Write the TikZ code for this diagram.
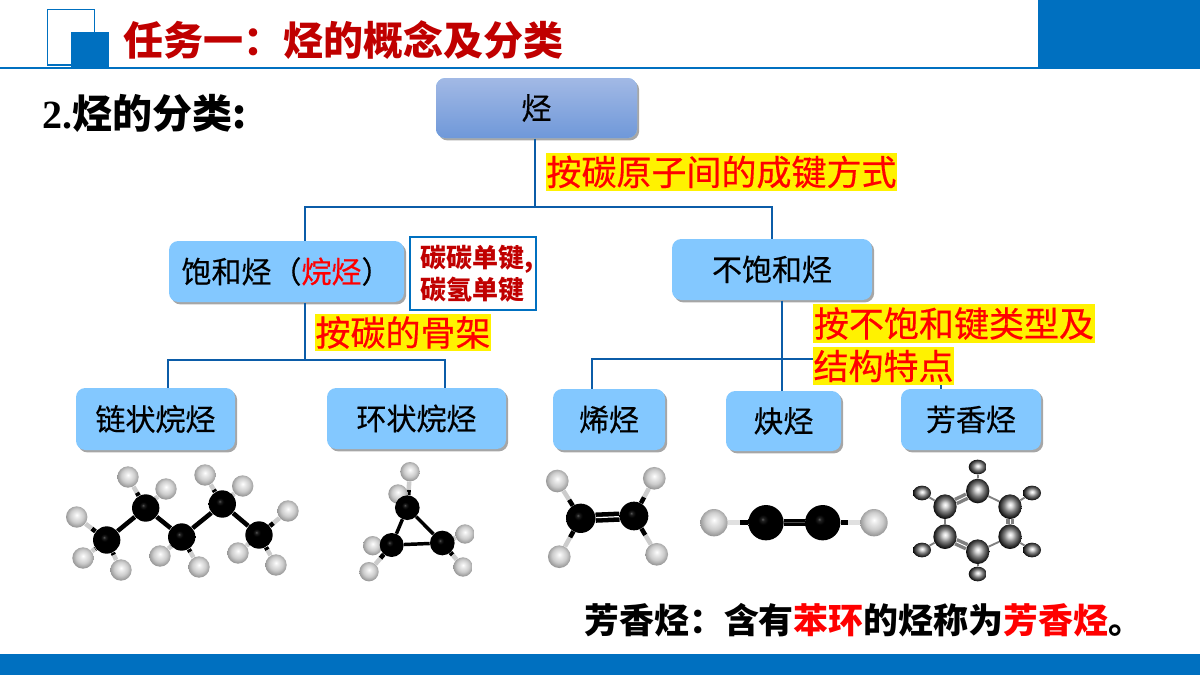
\documentclass[tikz,border=0pt]{standalone}
\usepackage{fontspec}
\setmainfont{Noto Sans CJK SC}
\newfontfamily\bodyfont{Noto Sans CJK SC}[FakeBold=0.4]
\newfontfamily\latinbold{Liberation Serif}
\usetikzlibrary{calc,shadows,backgrounds,shapes.geometric}

\definecolor{barblue}{HTML}{0070C0}
\definecolor{linkblue}{HTML}{0B5CA8}
\definecolor{boxblue}{HTML}{83C8FF}
\definecolor{titlered}{HTML}{C00000}
\definecolor{rootA}{HTML}{A2B9E5}
\definecolor{rootB}{HTML}{6F98D9}

\pgfdeclareradialshading{carbonball}{\pgfpoint{-5bp}{5bp}}{rgb(0bp)=(.36,.36,.36);rgb(2.5bp)=(.12,.12,.12);rgb(7bp)=(0,0,0);rgb(50bp)=(0,0,0)}
\pgfdeclareradialshading{hydroball}{\pgfpoint{0bp}{5bp}}{rgb(0bp)=(1,1,1);rgb(5bp)=(.93,.93,.93);rgb(16bp)=(.8,.8,.8);rgb(28bp)=(.55,.55,.55);rgb(50bp)=(.4,.4,.4)}
\pgfdeclareradialshading{ringball}{\pgfpoint{0bp}{4bp}}{rgb(0bp)=(1,1,1);rgb(5bp)=(.86,.86,.86);rgb(13bp)=(.5,.5,.5);rgb(20bp)=(.24,.24,.24);rgb(27bp)=(0,0,0);rgb(50bp)=(0,0,0)}

\tikzset{
  every picture/.style={line width=0.75pt},
  slidebar/.style={fill=barblue,draw=none},
  link/.style={draw=linkblue,line width=1.5pt},
  classbox/.style={rounded corners=7pt,fill=boxblue,inner sep=0pt,font=\bodyfont\fontsize{22.5}{27}\selectfont,
    drop shadow={shadow xshift=1.6pt,shadow yshift=-1.8pt,fill=black,opacity=.35}},
  rootbox/.style={classbox,top color=rootA,bottom color=rootB},
  keylabel/.style={fill=yellow,text=red,inner sep=0pt,font=\bodyfont\fontsize{26.25}{30}\selectfont},
  catom/.style={circle,inner sep=0pt,shading=carbonball,minimum size=20.5pt},
  hatom/.style={circle,inner sep=0pt,shading=hydroball,minimum size=16pt},
  ringC/.style={ellipse,inner sep=0pt,shading=ringball,minimum width=17.5pt,minimum height=18.5pt},
  ringH/.style={ellipse,inner sep=0pt,shading=ringball,minimum width=13.5pt,minimum height=11pt},
  ccbond/.style={draw=black,line width=3.4pt},
  blackhalf/.style={draw=black,line width=3.4pt},
  whitehalf/.style={draw=black!20,line width=3.4pt},
  ringbond/.style={draw=black!50,line width=1.4pt},
  ringdouble/.style={draw=black!50,line width=2.6pt,double=white,double distance=.7pt},
}

\newcommand{\chbond}[2]{%
  \draw[blackhalf] (#1) -- ($(#1)!.5!(#2)$);
  \draw[whitehalf] ($(#1)!.5!(#2)$) -- (#2);}

\begin{document}
\begin{tikzpicture}[x=0.75pt,y=0.75pt,yscale=-1,xscale=1]
\useasboundingbox (0,0) rectangle (1200,675);

%Header and footer
\draw[draw=barblue,line width=1.5pt] (0,67.5) -- (1200,67.5);
\fill[slidebar] (1038,0) rectangle (1200,67);
\fill[slidebar] (0,654) rectangle (1200,675);
\draw[draw=barblue,line width=.8pt,fill=white] (47.5,9.5) rectangle (94.5,65);
\fill[slidebar] (70.5,32) rectangle (109,67);

%Titles
\node[text=titlered,font=\fontsize{30}{36}\selectfont\bfseries,anchor=west,inner sep=0pt] (title) at (123,40) {任务一：烃的概念及分类};
\node[font=\fontsize{30}{36}\selectfont\bfseries,anchor=west,inner sep=0pt] (subtitle) at (42,113) {{\latinbold 2.}烃的分类:};

%Boxes
\node[rootbox,minimum width=150.75pt,minimum height=45pt] (root) at (536.5,108) {烃};
\node[classbox,minimum width=176.25pt,minimum height=45.75pt] (sat) at (286.5,271.5) {饱和烃（\textcolor{red}{烷烃}）};
\node[classbox,minimum width=150pt,minimum height=45.75pt] (unsat) at (772,269.5) {不饱和烃};
\node[classbox,minimum width=119.25pt,minimum height=46.5pt] (chain) at (155.5,419) {链状烷烃};
\node[classbox,minimum width=134.25pt,minimum height=45.75pt] (cyclo) at (416.5,418.5) {环状烷烃};
\node[classbox,minimum width=84pt,minimum height=45.75pt] (ene) at (609,419.5) {烯烃};
\node[classbox,minimum width=86.25pt,minimum height=45pt] (yne) at (783.5,421) {炔烃};
\node[classbox,minimum width=105pt,minimum height=45.75pt] (arene) at (971,419.5) {芳香烃};

%Note
\node[draw=barblue,line width=.8pt,minimum width=94.5pt,minimum height=54.75pt,inner sep=0pt,text=titlered,
  font=\fontsize{19.5}{24}\selectfont\bfseries,align=left] (note) at (473,273.5) {\hspace*{6pt}碳碳单键,\\\hspace*{6pt}碳氢单键};

%Straight Lines
\coordinate (forkA) at (535,207);
\coordinate (forkL) at (305,207);
\coordinate (forkR) at (772,207);
\coordinate (forkB) at (305,360);
\coordinate (forkC) at (168,360);
\coordinate (forkD) at (445,360);
\coordinate (forkE) at (782,359);
\coordinate (forkF) at (592,359);
\coordinate (forkG) at (941,359);
\draw[link] (root.south -| forkA) -- (forkA);
\draw[link] (sat.north -| forkL) -- (forkL) -- (forkR) -- (unsat.north -| forkR);
\draw[link] (sat.south -| forkB) -- (forkB);
\draw[link] (chain.north -| forkC) -- (forkC) -- (forkD) -- (cyclo.north -| forkD);
\draw[link] (unsat.south -| forkE) -- (yne.north -| forkE);
\draw[link] (ene.north -| forkF) -- (forkF) -- (forkG) -- (arene.north -| forkG);

%Labels
\node[keylabel,minimum width=263.25pt,minimum height=28.5pt] (bybond) at (721.5,172) {按碳原子间的成键方式};
\node[keylabel,minimum width=132pt,minimum height=27.75pt] (byframe) at (403,332.5) {按碳的骨架};
\node[keylabel,minimum width=211.5pt,minimum height=29.25pt] (bytypeA) at (954,323.5) {按不饱和键类型及};
\node[keylabel,minimum width=105.75pt,minimum height=28.5pt] (bytypeB) at (883.5,366) {结构特点};

%Chain alkane
\node[hatom] (a1) at (76.7,517) {};
\node[hatom] (a2) at (128,477) {};
\node[hatom] (a3) at (166,489) {};
\node[hatom] (a4) at (83,558) {};
\node[hatom] (a5) at (121,570) {};
\node[hatom] (a6) at (160,556) {};
\node[hatom] (a7) at (199,567) {};
\node[hatom] (a8) at (205,475) {};
\node[hatom] (a9) at (242.7,486) {};
\node[hatom] (a10) at (288,511) {};
\node[hatom] (a11) at (238,553) {};
\node[hatom] (a12) at (276,565) {};
\node[catom] (ac1) at (106.7,540) {};
\node[catom] (ac2) at (145.7,508) {};
\node[catom] (ac3) at (181.7,537) {};
\node[catom] (ac4) at (222.3,504) {};
\node[catom] (ac5) at (259,535) {};
\begin{pgfonlayer}{background}
\draw[ccbond] (ac1) -- (ac2);
\draw[ccbond] (ac2) -- (ac3);
\draw[ccbond] (ac3) -- (ac4);
\draw[ccbond] (ac4) -- (ac5);
\chbond{ac1}{a1}\chbond{ac1}{a4}\chbond{ac1}{a5}
\chbond{ac2}{a2}\chbond{ac2}{a3}
\chbond{ac3}{a6}\chbond{ac3}{a7}
\chbond{ac4}{a8}\chbond{ac4}{a9}
\chbond{ac5}{a10}\chbond{ac5}{a11}\chbond{ac5}{a12}
\end{pgfonlayer}

%Cyclopropane
\node[hatom,minimum size=14.5pt] (b1) at (410,471.7) {};
\node[hatom,minimum size=14.5pt] (b2) at (398,494) {};
\node[hatom,minimum size=14.5pt] (b3) at (465,534) {};
\node[hatom,minimum size=14.5pt] (b4) at (463,567) {};
\node[hatom,minimum size=14.5pt] (b5) at (372.7,545.7) {};
\node[hatom,minimum size=14.5pt] (b6) at (369,571.7) {};
\node[catom,minimum size=18.5pt] (bc1) at (407.3,507.7) {};
\node[catom,minimum size=18pt] (bc2) at (391.7,545) {};
\node[catom,minimum size=18.5pt] (bc3) at (442.3,543) {};
\begin{pgfonlayer}{background}
\draw[ccbond,line width=2.6pt] (bc1) -- (bc2);
\draw[ccbond,line width=2.6pt] (bc1) -- (bc3);
\draw[ccbond,line width=2.6pt] (bc2) -- (bc3);
\chbond{bc1}{b1}\chbond{bc1}{b2}\chbond{bc3}{b3}\chbond{bc3}{b4}\chbond{bc2}{b5}\chbond{bc2}{b6}
\end{pgfonlayer}

%Ethylene
\node[hatom,minimum size=17pt] (c1) at (557.3,481) {};
\node[hatom,minimum size=17pt] (c2) at (559.3,556.7) {};
\node[hatom,minimum size=17pt] (c3) at (654.3,478.3) {};
\node[hatom,minimum size=17pt] (c4) at (656.7,554.3) {};
\node[catom,minimum size=22pt] (cc1) at (580.7,518.3) {};
\node[catom,minimum size=21.5pt] (cc2) at (634,516) {};
\begin{pgfonlayer}{background}
\draw[draw=black,line width=3.4pt,double=white,double distance=.9pt] (cc1) -- (cc2);
\chbond{cc1}{c1}\chbond{cc1}{c2}\chbond{cc2}{c3}\chbond{cc2}{c4}
\end{pgfonlayer}

%Acetylene
\node[hatom,minimum size=20.5pt] (d1) at (714,522.7) {};
\node[hatom,minimum size=20.5pt] (d2) at (874,522.7) {};
\node[catom,minimum size=26.5pt] (dc1) at (766,522.7) {};
\node[catom,minimum size=26.5pt] (dc2) at (822.7,522.7) {};
\begin{pgfonlayer}{background}
\draw[draw=black,line width=5pt] (dc1) -- (dc2);
\draw[draw=black!70,line width=.8pt] (dc1) -- (dc2);
\draw[blackhalf,line width=4pt] (dc1) -- ($(dc1)!.5!(d1)$);
\draw[whitehalf,line width=4pt,draw=black!12] ($(dc1)!.5!(d1)$) -- (d1);
\draw[blackhalf,line width=4pt] (dc2) -- ($(dc2)!.5!(d2)$);
\draw[whitehalf,line width=4pt,draw=black!12] ($(dc2)!.5!(d2)$) -- (d2);
\end{pgfonlayer}

%Benzene
\node[ringH] (e1) at (977.7,467) {};
\node[ringH] (e2) at (1032,493) {};
\node[ringH] (e3) at (1032,550) {};
\node[ringH] (e4) at (977.7,574) {};
\node[ringH] (e5) at (922,550) {};
\node[ringH] (e6) at (922,493) {};
\node[ringC] (ec1) at (977.7,491) {};
\node[ringC] (ec2) at (1010,506.7) {};
\node[ringC] (ec3) at (1010,536.7) {};
\node[ringC] (ec4) at (977.7,551.7) {};
\node[ringC] (ec5) at (945,536.7) {};
\node[ringC] (ec6) at (945,506.7) {};
\begin{pgfonlayer}{background}
\draw[ringdouble] (ec1) -- (ec6);
\draw[ringbond] (ec1) -- (ec2);
\draw[ringdouble] (ec2) -- (ec3);
\draw[ringbond] (ec3) -- (ec4);
\draw[ringdouble] (ec4) -- (ec5);
\draw[ringbond] (ec5) -- (ec6);
\draw[ringbond] (ec1) -- (e1);
\draw[ringbond] (ec2) -- (e2);
\draw[ringbond] (ec3) -- (e3);
\draw[ringbond] (ec4) -- (e4);
\draw[ringbond] (ec5) -- (e5);
\draw[ringbond] (ec6) -- (e6);
\end{pgfonlayer}

%Footnote
\node[font=\fontsize{26.2}{30}\selectfont\bfseries,anchor=west,inner sep=0pt] (footnote) at (584,620) {芳香烃：含有\textcolor{red}{苯环}的烃称为\textcolor{red}{芳香烃}。};

\end{tikzpicture}
\end{document}
